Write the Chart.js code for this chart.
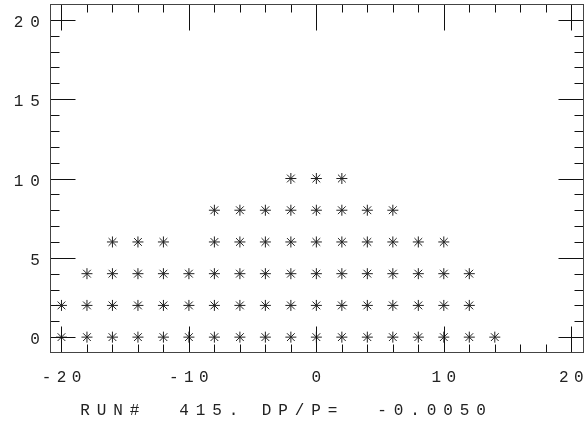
<!DOCTYPE html>
<html>
<head>
<meta charset="utf-8">
<script src="https://cdn.jsdelivr.net/npm/chart.js@4/dist/chart.umd.min.js"></script>
<style>
  html, body { margin: 0; padding: 0; background: #fff; }
  #wrap { width: 585px; height: 425px; }
</style>
</head>
<body>
<div id="wrap"><canvas id="myChart" width="585" height="425"></canvas></div>
<script>
// rows of hits, one list of x positions per y level
var rowY = [0, 2, 4, 6, 8, 10];
var row0 = [-20, -18, -16, -14, -12, -10, -8, -6, -4, -2, 0, 2, 4, 6, 8, 10, 12, 14];
var row2 = [-20, -18, -16, -14, -12, -10, -8, -6, -4, -2, 0, 2, 4, 6, 8, 10, 12];
var row4 = [-18, -16, -14, -12, -10, -8, -6, -4, -2, 0, 2, 4, 6, 8, 10, 12];
var row6 = [-16, -14, -12, -8, -6, -4, -2, 0, 2, 4, 6, 8, 10];
var row8 = [-8, -6, -4, -2, 0, 2, 4, 6];
var row10 = [-2, 0, 2];

var xTicks = [-20, -10, 0, 10, 20];
var yTicks = [0, 5, 10, 15, 20];
var xTickLabels = ['-20', '-10', '0', '10', '20'];
var yTickLabels = ['0', '5', '10', '15', '20'];
var runLabel = 'RUN#  415. DP/P=  -0.0050';

var rows = [row0, row2, row4, row6, row8, row10];
var points = [];
for (var r = 0; r < rows.length; r++) {
  for (var i = 0; i < rows[r].length; i++) {
    points.push({x: rows[r][i], y: rowY[r]});
  }
}

var FONT = '16px "Liberation Mono", "DejaVu Sans Mono", monospace';

// draws a string one character at a time on a fixed pitch
function spacedText(ctx, text, cx, cy, pitch) {
  for (var i = 0; i < text.length; i++) {
    ctx.fillText(text[i], cx + i * pitch, cy);
  }
}

var frameTicks = {
  id: 'frameTicks',
  afterDraw: function(chart) {
    var ctx = chart.ctx;
    var a = chart.chartArea;
    var xs = chart.scales.x, ys = chart.scales.y;
    var L = Math.round(a.left) + 0.5, R = Math.round(a.right) - 0.5;
    var T = Math.round(a.top) + 0.5, B = Math.round(a.bottom) - 0.5;
    ctx.save();

    // ticks on all four sides, pointing inward
    ctx.strokeStyle = '#111';
    ctx.lineWidth = 1;
    ctx.beginPath();
    for (var v = -20; v <= 20; v += 2) {
      var px = Math.round(xs.getPixelForValue(v)) + 0.5;
      var len = (v % 10 === 0) ? 26 : 8;
      ctx.moveTo(px, B); ctx.lineTo(px, B - len);
      ctx.moveTo(px, T); ctx.lineTo(px, T + len);
    }
    for (var w = 0; w <= 20; w += 1) {
      var py = Math.round(ys.getPixelForValue(w)) + 0.5;
      var ylen = (w % 5 === 0) ? 25 : 9;
      ctx.moveTo(L, py); ctx.lineTo(L + ylen, py);
      ctx.moveTo(R, py); ctx.lineTo(R - ylen, py);
    }
    ctx.stroke();

    // frame
    ctx.strokeStyle = '#444';
    ctx.strokeRect(L, T, R - L, B - T);

    // tick labels
    ctx.fillStyle = '#222';
    ctx.font = FONT;
    ctx.textAlign = 'center';
    ctx.textBaseline = 'middle';
    var xp = 15;
    for (var k = 0; k < xTicks.length; k++) {
      var s = xTickLabels[k];
      var cx = xs.getPixelForValue(xTicks[k]) - (s.length - 1) * xp / 2;
      spacedText(ctx, s, cx, 378, xp);
    }
    var yp = 16.5;
    for (var m = 0; m < yTicks.length; m++) {
      var t = yTickLabels[m];
      var sx = 35 - (t.length - 1) * yp;
      spacedText(ctx, t, sx, ys.getPixelForValue(yTicks[m]) + 3, yp);
    }

    // run caption under the axis
    spacedText(ctx, runLabel, 85, 411, 16.5);
    ctx.restore();
  }
};

var ctx = document.getElementById('myChart');
var myChart = new Chart(ctx, {
  type: 'scatter',
  data: {
    datasets: [{
      data: points,
      pointStyle: 'star',
      pointRadius: 5.5,
      pointHoverRadius: 5.5,
      borderColor: '#222',
      backgroundColor: '#222',
      borderWidth: 1
    }]
  },
  options: {
    responsive: false,
    animation: false,
    events: [],
    layout: {autoPadding: false, padding: {left: 50, top: 4, right: 1, bottom: 72}},
    plugins: {legend: {display: false}, tooltip: {enabled: false}},
    scales: {
      x: {type: 'linear', min: -20.9, max: 21, display: false},
      y: {type: 'linear', min: -1, max: 21, display: false}
    }
  },
  plugins: [frameTicks]
});
</script>
</body>
</html>
